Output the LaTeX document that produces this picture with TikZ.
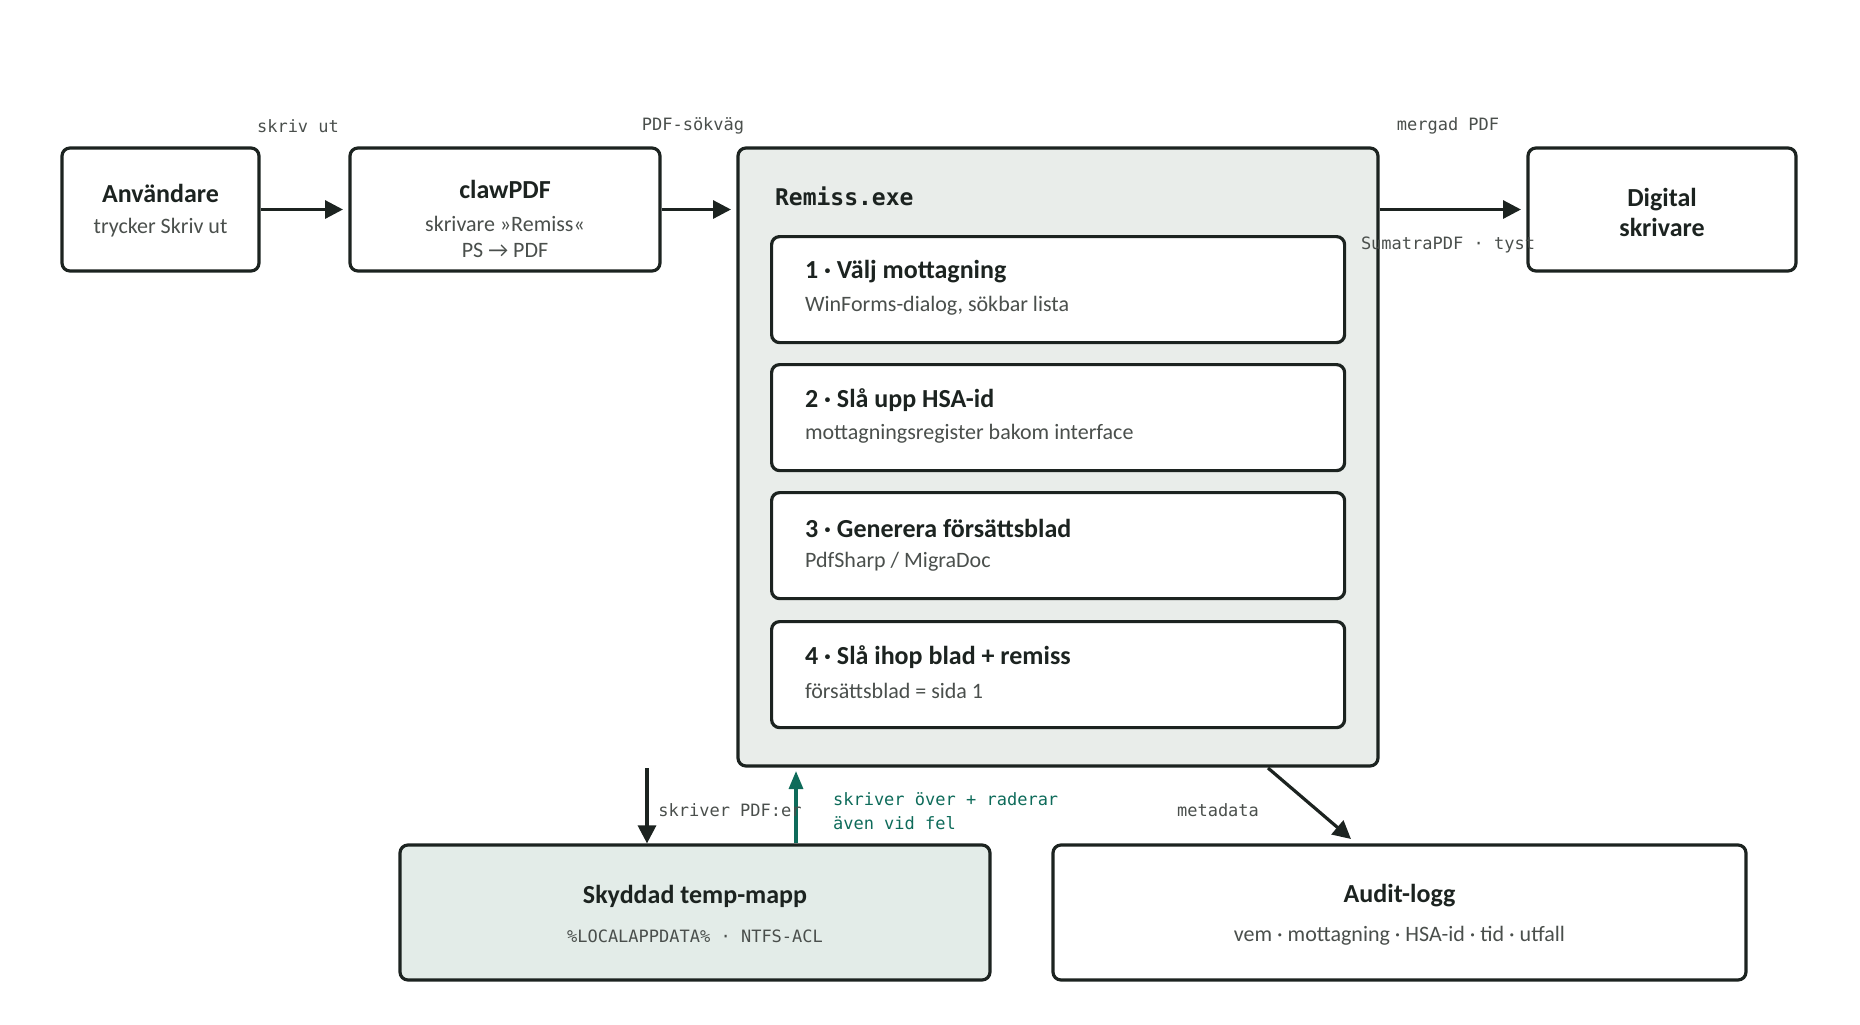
\documentclass[tikz,border=0pt]{standalone}
\usepackage{fontspec}
\setmainfont{Carlito}
\setmonofont{DejaVu Sans Mono}
\usetikzlibrary{arrows.meta}
\definecolor{ink}{HTML}{1C2320}
\definecolor{muted}{HTML}{4A4F4C}
\definecolor{panel}{HTML}{E9EDEA}
\definecolor{safe}{HTML}{E3ECE8}
\definecolor{teal}{HTML}{0E6B5A}
\tikzset{
  box/.style={draw=ink,line width=1.6pt,rounded corners=4pt,fill=white,inner sep=0pt},
  ttl/.style={font=\fontsize{13}{15}\selectfont\bfseries,text=ink},
  sub/.style={font=\fontsize{11}{13}\selectfont,text=muted},
  lbl/.style={font=\ttfamily\fontsize{8.5}{10}\selectfont,text=muted},
  flow/.style={draw=ink,line width=1.6pt,-{Triangle[length=9pt,width=9pt]}}
}
\begin{document}
\begin{tikzpicture}[x=0.5pt,y=-0.5pt]
  \useasboundingbox (0,0) rectangle (1860,1024);
  % top row
  \node[box,minimum width=98.5pt,minimum height=61.5pt] (user) at (160.5,209.5) {};
  \node[ttl] at (160.5,193) {Användare};
  \node[sub] at (160.5,228) {trycker Skriv ut};
  \node[box,minimum width=155pt,minimum height=61.5pt] (claw) at (505,209.5) {};
  \node[ttl] at (505,189) {clawPDF};
  \node[sub,align=center] at (505,237) {skrivare »Remiss«\\PS → PDF};
  \node[box,fill=panel,minimum width=320pt,minimum height=309pt] (remiss) at (1058,457) {};
  \node[anchor=west,font=\ttfamily\bfseries\fontsize{11.5}{13}\selectfont,text=ink] at (768,196) {Remiss.exe};
  \node[box,minimum width=134pt,minimum height=61.5pt] (printer) at (1662,209.5) {};
  \node[ttl,align=center] at (1662,212) {Digital\\skrivare};
  % steps
  \foreach \y/\n/\t/\s in {235/1/{1 · Välj mottagning}/{WinForms-dialog, sökbar lista},
      363/2/{2 · Slå upp HSA-id}/{mottagningsregister bakom interface},
      491/3/{3 · Generera försättsblad}/{PdfSharp {/} MigraDoc},
      620/4/{4 · Slå ihop blad + remiss}/{försättsblad = sida 1}}{
    \node[box,anchor=north west,minimum width=286.5pt,minimum height=53pt] (step\n) at (770,\y) {};
    \node[ttl,anchor=west] at (798,\y+37) {\t};
    \node[sub,anchor=west] at (798,\y+71) {\s};
  }
  % bottom row
  \node[box,fill=safe,minimum width=295pt,minimum height=67.5pt] (temp) at (695,912.5) {};
  \node[ttl] at (695,896) {Skyddad temp-mapp};
  \node[lbl] at (695,936) {\%LOCALAPPDATA\% · NTFS-ACL};
  \node[box,minimum width=346.5pt,minimum height=67.5pt] (audit) at (1399.5,912.5) {};
  \node[ttl] at (1399.5,896) {Audit-logg};
  \node[sub] at (1399.5,936) {vem · mottagning · HSA-id · tid · utfall};
  % connectors
  \draw[flow] (user.east) -- (claw.west -| 343,0);
  \draw[flow] (claw.east) -- (731,209.5);
  \draw[flow] (remiss.east |- 0,209.5) -- (1521,209.5);
  \coordinate (wr) at (647,768);
  \draw[flow] (wr) -- (temp.north -| wr);
  \draw[draw=teal,line width=1.6pt,-{Triangle[length=9pt,width=7pt]}] (temp.north -| 796,0) -- (796,771);
  \coordinate (mt) at (1268,768);
  \draw[flow] (mt) -- (1351,839);
  % labels
  \node[lbl] at (298,126) {skriv ut};
  \node[lbl] at (693,126) {PDF-sökväg};
  \node[lbl] at (1448,126) {mergad PDF};
  \node[lbl] at (1448,245) {SumatraPDF · tyst};
  \node[lbl] at (730,810) {skriver PDF:er};
  \node[lbl,text=teal,anchor=west,align=left] at (826,811) {skriver över + raderar\\[2pt]även vid fel};
  \node[lbl] at (1218,810) {metadata};
\end{tikzpicture}
\end{document}
